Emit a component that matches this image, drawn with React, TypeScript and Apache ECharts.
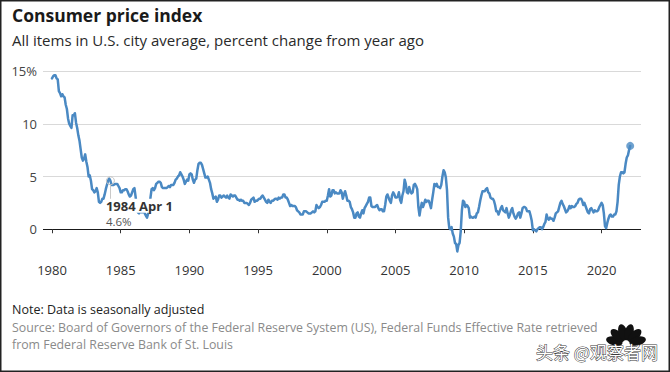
import React, { useEffect, useRef } from "react";
import * as echarts from "echarts";

// Monthly CPI, percent change from year ago, starting January 1980
const cpi1980s = [
  14.3, 14.5, 14.6, 14.6, 14.3, 14.2, 13.1, 12.9, 12.6, 12.8, 12.6, 12.5,
  11.8, 11.4, 10.5, 10.0, 9.8, 9.6, 10.8, 10.8, 11.0, 10.1, 9.6, 8.9,
  8.4, 7.6, 6.8, 6.5, 6.7, 7.1, 6.4, 5.9, 5.0, 5.1, 4.6, 3.8,
  3.7, 3.5, 3.6, 3.9, 3.5, 2.6, 2.5, 2.6, 2.9, 2.9, 3.3, 3.8,
  4.2, 4.6, 4.8, 4.6, 4.2, 4.2, 4.2, 4.3, 4.3, 4.3, 4.1, 3.9,
  3.5, 3.5, 3.7, 3.7, 3.8, 3.8, 3.6, 3.3, 3.1, 3.2, 3.5, 3.8,
  3.9, 3.1, 2.2, 1.6, 1.5, 1.8, 1.6, 1.6, 1.8, 1.5, 1.3, 1.1,
  1.5, 2.1, 3.0, 3.8, 3.9, 3.7, 3.9, 4.3, 4.4, 4.5, 4.5, 4.4,
  4.0, 3.9, 3.9, 3.9, 3.9, 4.0, 4.1, 4.0, 4.2, 4.2, 4.2, 4.4,
  4.7, 4.8, 5.0, 5.1, 5.4, 5.2, 5.0, 4.7, 4.3, 4.5, 4.7, 4.6,
];
const cpi1990s = [
  5.2, 5.3, 5.2, 4.7, 4.4, 4.7, 4.8, 5.6, 6.2, 6.3, 6.3, 6.1,
  5.7, 5.3, 4.9, 4.9, 5.0, 4.7, 4.4, 3.8, 3.4, 2.9, 3.0, 3.1,
  2.6, 2.8, 3.2, 3.2, 3.0, 3.1, 3.2, 3.1, 3.0, 3.2, 3.0, 2.9,
  3.3, 3.2, 3.1, 3.2, 3.2, 3.0, 2.8, 2.8, 2.7, 2.8, 2.7, 2.7,
  2.5, 2.5, 2.5, 2.4, 2.3, 2.5, 2.8, 2.9, 3.0, 2.6, 2.7, 2.7,
  2.8, 2.9, 2.9, 3.1, 3.2, 3.0, 2.8, 2.6, 2.5, 2.8, 2.6, 2.5,
  2.7, 2.7, 2.8, 2.9, 2.9, 2.8, 3.0, 2.9, 3.0, 3.0, 3.3, 3.3,
  3.0, 3.0, 2.8, 2.5, 2.2, 2.3, 2.2, 2.2, 2.2, 2.1, 1.8, 1.7,
  1.6, 1.4, 1.4, 1.4, 1.7, 1.7, 1.7, 1.6, 1.5, 1.5, 1.5, 1.6,
  1.7, 1.6, 1.7, 2.3, 2.1, 2.0, 2.1, 2.3, 2.6, 2.6, 2.6, 2.7,
];
const cpi2000s = [
  2.7, 3.2, 3.8, 3.1, 3.2, 3.7, 3.7, 3.4, 3.5, 3.4, 3.4, 3.4,
  3.7, 3.5, 2.9, 3.3, 3.6, 3.2, 2.7, 2.7, 2.6, 2.1, 1.9, 1.6,
  1.1, 1.1, 1.5, 1.6, 1.2, 1.1, 1.5, 1.8, 1.5, 2.0, 2.2, 2.4,
  2.6, 3.0, 3.0, 2.2, 2.1, 2.1, 2.1, 2.2, 2.3, 2.0, 1.8, 1.9,
  1.9, 1.7, 1.7, 2.3, 3.1, 3.3, 3.0, 2.7, 2.5, 3.2, 3.5, 3.3,
  3.0, 3.0, 3.1, 3.5, 2.8, 2.5, 3.2, 3.6, 4.7, 4.3, 3.5, 3.4,
  4.0, 3.6, 3.4, 3.5, 4.2, 4.3, 4.1, 3.8, 2.1, 1.3, 2.0, 2.5,
  2.1, 2.4, 2.8, 2.6, 2.7, 2.7, 2.4, 2.0, 2.8, 3.5, 4.3, 4.1,
  4.3, 4.0, 4.0, 3.9, 4.2, 5.0, 5.6, 5.4, 4.9, 3.7, 1.1, 0.1,
  0.0, 0.2, -0.4, -0.7, -1.3, -1.4, -2.1, -1.5, -1.3, -0.2, 1.8, 2.7,
];
const cpi2010s = [
  2.6, 2.1, 2.3, 2.2, 2.0, 1.1, 1.2, 1.1, 1.1, 1.2, 1.1, 1.5,
  1.6, 2.1, 2.7, 3.2, 3.6, 3.6, 3.6, 3.8, 3.9, 3.5, 3.4, 3.0,
  2.9, 2.9, 2.7, 2.3, 1.7, 1.7, 1.4, 1.7, 2.0, 2.2, 1.8, 1.7,
  1.6, 2.0, 1.5, 1.1, 1.4, 1.8, 2.0, 1.5, 1.2, 1.0, 1.2, 1.5,
  1.6, 1.1, 1.5, 2.0, 2.1, 2.1, 2.0, 1.7, 1.7, 1.7, 1.3, 0.8,
  -0.1, 0.0, -0.1, -0.2, 0.0, 0.1, 0.2, 0.2, 0.0, 0.2, 0.5, 0.7,
  1.4, 1.0, 0.9, 1.1, 1.0, 1.0, 0.8, 1.1, 1.5, 1.6, 1.7, 2.1,
  2.5, 2.7, 2.4, 2.2, 1.9, 1.6, 1.7, 1.9, 2.2, 2.0, 2.2, 2.1,
  2.1, 2.2, 2.4, 2.5, 2.8, 2.9, 2.9, 2.7, 2.3, 2.5, 2.2, 1.9,
  1.6, 1.5, 1.9, 2.0, 1.8, 1.6, 1.8, 1.7, 1.7, 1.8, 2.1, 2.3,
];
const cpi2020s = [
  2.5, 2.3, 1.5, 0.3, 0.1, 0.6, 1.0, 1.3, 1.4, 1.2, 1.2, 1.4,
  1.4, 1.7, 2.6, 4.2, 5.0, 5.4, 5.4, 5.3, 5.4, 6.2, 6.8, 7.0,
  7.5, 7.9,
];

const startYear = 1980;
const xTickYears = [1980, 1985, 1990, 1995, 2000, 2005, 2010, 2015, 2020];
const yTickValues = [-5, 0, 5, 10, 15];
const monthNames = ["Jan", "Feb", "Mar", "Apr", "May", "Jun", "Jul", "Aug", "Sep", "Oct", "Nov", "Dec"];
const annotationYear = 1984;
const annotationMonth = 3; // April

const titleText = "Consumer price index";
const subtitleText = "All items in U.S. city average, percent change from year ago";
const noteText = "Note: Data is seasonally adjusted";
const sourceLine1 = "Source: Board of Governors of the Federal Reserve System (US), Federal Funds Effective Rate retrieved";
const sourceLine2 = "from Federal Reserve Bank of St. Louis";
const watermarkText = "头条 @观察者网";

const LINE_COLOR = "#4a89c3";
const FONT = "'Open Sans', 'Noto Sans', sans-serif";

export default function App() {
  const ref = useRef<HTMLDivElement>(null);

  useEffect(() => {
    if (!ref.current) return;
    const chart = echarts.init(ref.current, null, { renderer: "svg" });

    const all = [...cpi1980s, ...cpi1990s, ...cpi2000s, ...cpi2010s, ...cpi2020s];
    const data = all.map((v, i) => [startYear + i / 12, v]);
    const last = data[data.length - 1];
    const annIdx = (annotationYear - startYear) * 12 + annotationMonth;
    const ann = data[annIdx];
    const annLabel = `${annotationYear} ${monthNames[annotationMonth]} 1`;

    const feathers = [-76, -46, -15, 15, 46, 76].map((deg) => ({
      type: "ellipse",
      x: 626,
      y: 344,
      rotation: (-deg * Math.PI) / 180,
      shape: { cx: 0, cy: -12, rx: 4.4, ry: 8.4 },
      style: { fill: "#111" },
      z: 10,
    }));

    chart.setOption({
      animation: false,
      backgroundColor: "#fff",
      grid: { left: 43, right: 29, top: 71, bottom: 90, containLabel: false, outerBoundsMode: "none" },
      xAxis: {
        type: "value",
        min: 1979.345,
        max: 2022.87,
        offset: -31,
        axisLine: { show: false },
        axisTick: { show: true, length: 4, customValues: xTickYears, lineStyle: { color: "#333", width: 1 } },
        axisLabel: {
          customValues: xTickYears,
          margin: 12,
          fontSize: 13,
          color: "#333",
          fontFamily: FONT,
          formatter: (v: number) => String(Math.round(v)),
        },
        splitLine: { show: false },
      },
      yAxis: {
        type: "value",
        min: yTickValues[0],
        max: yTickValues[yTickValues.length - 1],
        interval: 5,
        axisLine: { show: false },
        axisTick: { show: false },
        axisLabel: {
          margin: 6,
          fontSize: 13,
          color: "#444",
          fontFamily: FONT,
          formatter: (v: number) => (v < 0 ? "" : v === 15 ? "15%" : String(v)),
        },
        splitLine: {
          show: true,
          lineStyle: { color: ["rgba(0,0,0,0)", "#1a1a1a", "#d9d9d9", "#d9d9d9", "#d9d9d9"], width: 1 },
        },
      },
      series: [
        {
          type: "line",
          data,
          showSymbol: false,
          lineStyle: { color: LINE_COLOR, width: 2.5, join: "round", cap: "round" },
          itemStyle: { color: LINE_COLOR },
          z: 3,
          markLine: {
            silent: true,
            symbol: "none",
            label: { show: false },
            lineStyle: { color: "#c9c9c9", width: 1, type: "solid" },
            data: [[{ coord: [ann[0], ann[1] - 0.42] }, { coord: [ann[0], 2.8] }]],
          },
          markPoint: {
            silent: true,
            data: [
              {
                coord: ann,
                symbol: "circle",
                symbolSize: 8,
                itemStyle: { color: "rgba(255,255,255,0)", borderColor: "#c4c4c4", borderWidth: 1 },
                label: {
                  show: true,
                  position: [-1, 21],
                  formatter: `{t|${annLabel}}\n{v|${ann[1].toFixed(1)}%}`,
                  rich: {
                    t: {
                      fontFamily: FONT,
                      fontWeight: "bold",
                      fontSize: 13,
                      color: "#333",
                      backgroundColor: "#fff",
                      lineHeight: 17,
                      padding: [1, 2, 0, 1],
                    },
                    v: {
                      fontFamily: FONT,
                      fontSize: 11.5,
                      color: "#555",
                      backgroundColor: "#fff",
                      lineHeight: 14,
                      padding: [0, 2, 0, 1],
                    },
                  },
                },
              },
            ],
          },
        },
        {
          type: "scatter",
          data: [last],
          symbol: "circle",
          symbolSize: 8,
          itemStyle: { color: LINE_COLOR },
          z: 4,
        },
      ],
      graphic: [
        {
          type: "text",
          x: 12,
          y: 15,
          style: { text: titleText, font: `bold 17.5px ${FONT}`, fill: "#1a1a1a", verticalAlign: "middle" },
        },
        {
          type: "text",
          x: 12,
          y: 40,
          style: { text: subtitleText, font: `15px ${FONT}`, fill: "#2a2a2a", verticalAlign: "middle" },
        },
        {
          type: "text",
          x: 12,
          y: 309,
          style: { text: noteText, font: `12.5px ${FONT}`, fill: "#222", verticalAlign: "middle" },
        },
        {
          type: "text",
          x: 12,
          y: 327,
          style: { text: sourceLine1, font: `12.35px ${FONT}`, fill: "#8a8a8a", verticalAlign: "middle" },
        },
        {
          type: "text",
          x: 12,
          y: 344,
          style: { text: sourceLine2, font: `12.35px ${FONT}`, fill: "#8a8a8a", verticalAlign: "middle" },
        },
        ...feathers,
        {
          type: "text",
          x: 536,
          y: 351,
          z: 11,
          style: {
            text: watermarkText,
            font: `17px 'Noto Sans CJK SC', sans-serif`,
            fill: "#fff",
            stroke: "#3a3a3a",
            lineWidth: 1,
            verticalAlign: "middle",
          },
        },
        {
          type: "rect",
          z: 12,
          shape: { x: 0.75, y: 0.75, width: 668.5, height: 370.5 },
          style: { fill: "none", stroke: "#222", lineWidth: 1.5 },
        },
      ],
    });

    return () => chart.dispose();
  }, []);

  return (
    <div
      ref={ref}
      style={{ position: "absolute", left: 0, top: 0, width: 670, height: 372 }}
    />
  );
}
